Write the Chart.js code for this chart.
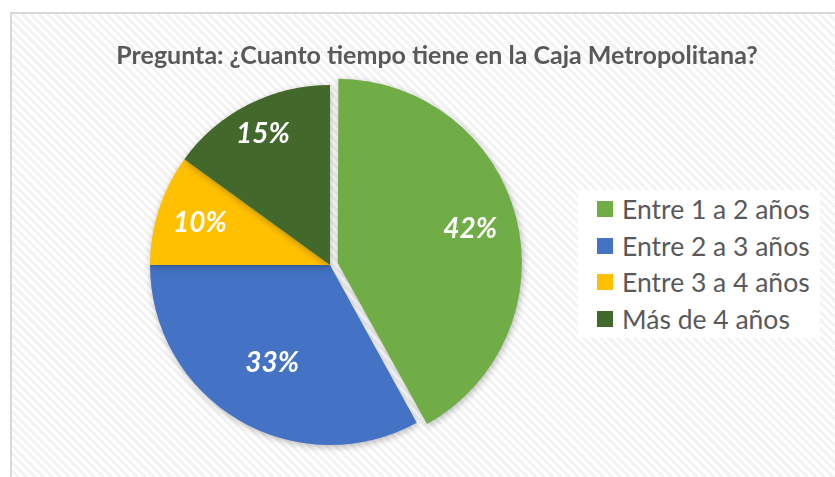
<!DOCTYPE html>
<html>
<head>
<meta charset="utf-8">
<script src="https://cdn.jsdelivr.net/npm/chart.js@4"></script>
<style>
  html, body { margin: 0; padding: 0; width: 835px; height: 477px; overflow: hidden; background: #fff; }
  #frame {
    position: absolute; left: 10px; top: 12px; width: 840px; height: 480px;
    border: 2px solid #d9d9d9;
    background: repeating-linear-gradient(45deg, #ffffff 0px, #ffffff 3px, #f3f3f3 3px, #f3f3f3 6px);
  }
  #chart { position: absolute; left: 0; top: 0; }
  #legend {
    position: absolute; left: 578px; top: 190px; width: 242px; height: 148px;
    background: #fff; font-family: Lato, sans-serif; font-size: 26.5px; color: #595959;
  }
  .item { position: absolute; left: 19px; height: 30px; line-height: 30px; white-space: nowrap; }
  .item span.box { position: absolute; left: 0; top: 7px; width: 16px; height: 16px; }
  .item span.txt { position: absolute; left: 25px; top: 0; }
</style>
</head>
<body>
<div id="frame"></div>
<canvas id="chart" width="835" height="477"></canvas>
<div id="legend"></div>
<script>
const categories = ['Entre 1 a 2 años', 'Entre 2 a 3 años', 'Entre 3 a 4 años', 'Más de 4 años'];
const percentages = [42, 33, 10, 15];
const colors = ['#70ad47', '#4472c4', '#ffc000', '#43682b'];
const explode = [32, 0, 0, 0];
const labelRadius = [0.76, 0.63, 0.76, 0.82];
const titleText = 'Pregunta: ¿Cuanto tiempo tiene en la Caja Metropolitana?';

const legendEl = document.getElementById('legend');
categories.forEach((cat, i) => {
    const item = document.createElement('div');
    item.className = 'item';
    item.style.top = (4 + i * 36.5) + 'px';
    item.innerHTML = `<span class="box" style="background:${colors[i]}"></span><span class="txt">${cat}</span>`;
    legendEl.appendChild(item);
});

const pieShadow = {
    id: 'pieShadow',
    beforeDatasetDraw(chart) {
        const ctx = chart.ctx;
        ctx.save();
        ctx.shadowColor = 'rgba(0,0,0,0.28)';
        ctx.shadowBlur = 7;
        ctx.shadowOffsetX = 1;
        ctx.shadowOffsetY = 2;
    },
    afterDatasetDraw(chart) {
        chart.ctx.restore();
    }
};

const pieLabels = {
    id: 'pieLabels',
    afterDatasetsDraw(chart) {
        const ctx = chart.ctx;
        const meta = chart.getDatasetMeta(0);
        ctx.save();
        ctx.fillStyle = '#ffffff';
        ctx.font = 'italic bold 28px Lato, sans-serif';
        ctx.textAlign = 'center';
        ctx.textBaseline = 'middle';
        meta.data.forEach((arc, i) => {
            const p = arc.getProps(['x', 'y', 'startAngle', 'endAngle', 'outerRadius'], true);
            const mid = (p.startAngle + p.endAngle) / 2;
            const r = p.outerRadius * labelRadius[i] + explode[i] / 4;
            ctx.fillText(percentages[i] + '%', p.x + Math.cos(mid) * r, p.y + Math.sin(mid) * r);
        });
        ctx.fillStyle = '#595959';
        ctx.font = 'bold 25px Lato, sans-serif';
        ctx.fillText(titleText, 437, 56);
        ctx.restore();
    }
};

const S = 392;
const cx = 330, cy = 265;

new Chart(document.getElementById('chart'), {
    type: 'pie',
    data: {
        labels: categories,
        datasets: [{
            data: percentages,
            backgroundColor: colors,
            borderWidth: 0,
            offset: explode
        }]
    },
    options: {
        responsive: false,
        animation: false,
        events: [],
        layout: {
            padding: {
                left: cx - S / 2,
                right: 835 - (cx + S / 2),
                top: cy - S / 2,
                bottom: 477 - (cy + S / 2)
            }
        },
        plugins: {
            legend: { display: false },
            tooltip: { enabled: false },
            title: { display: false }
        }
    },
    plugins: [pieShadow, pieLabels]
});
</script>
</body>
</html>
